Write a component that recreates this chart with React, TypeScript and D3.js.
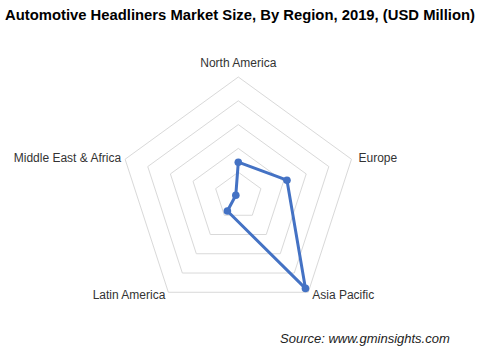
import React from "react";
import * as d3 from "d3";

const categories = ["North America", "Europe", "Asia Pacific", "Latin America", "Middle East & Africa"];
const values = [1420, 2150, 4800, 780, 110];
const ringTicks = [1000, 2000, 3000, 4000, 5000];
const title = "Automotive Headliners Market Size, By Region, 2019, (USD Million)";
const source = "Source: www.gminsights.com";

const W = 487, H = 364;
const cx = 238.3, cy = 196, R = 119;

export default function App() {
  const r = d3.scaleLinear().domain([0, 5000]).range([0, R]);
  const angle = (i: number) => (i * 2 * Math.PI) / categories.length;
  const pt = (i: number, v: number): [number, number] => [
    cx + Math.sin(angle(i)) * r(v),
    cy - Math.cos(angle(i)) * r(v),
  ];
  const line = d3.line<[number, number]>().curve(d3.curveLinearClosed);
  const dataPts = values.map((v, i) => pt(i, v));

  const labelPos = [
    { dx: 0, dy: -10, anchor: "middle" },
    { dx: 7, dy: 3, anchor: "start" },
    { dx: 4, dy: 7, anchor: "start" },
    { dx: -3, dy: 7, anchor: "end" },
    { dx: -4, dy: 3, anchor: "end" },
  ];

  return (
    <svg width={W} height={H} style={{ position: "absolute", left: 0, top: 0, background: "#fff" }}
      fontFamily="'Liberation Sans', Arial, sans-serif">
      <text x={5} y={20} fontSize={14.5} fontWeight="bold" fill="#000" textLength={470} lengthAdjust="spacingAndGlyphs">{title}</text>
      {ringTicks.map((t) => (
        <path key={t} d={line(categories.map((_, i) => pt(i, t))) || ""}
          fill="none" stroke="#d9d9d9" strokeWidth={1} />
      ))}
      <path d={line(dataPts) || ""} fill="none" stroke="#4472C4" strokeWidth={3} strokeLinejoin="round" />
      {dataPts.map((p, i) => (
        <circle key={i} cx={p[0]} cy={p[1]} r={3.8} fill="#4472C4" />
      ))}
      {categories.map((c, i) => {
        const [x, y] = pt(i, 5000);
        const lp = labelPos[i];
        return (
          <text key={c} x={x + lp.dx} y={y + lp.dy} textAnchor={lp.anchor} fontSize={12} fill="#333">{c}</text>
        );
      })}
      <text x={280} y={343} fontSize={13} fontStyle="italic" fill="#222">{source}</text>
    </svg>
  );
}
